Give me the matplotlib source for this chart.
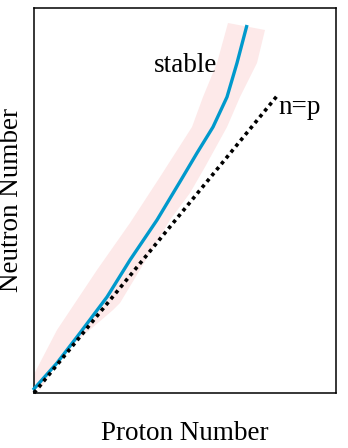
import matplotlib.pyplot as plt
import numpy as np

plt.rcParams['font.family'] = ['Liberation Serif', 'DejaVu Serif']

# blue "stable" curve (proton, neutron) in arbitrary units
stable_z = [-1, 23, 46, 73, 96, 123, 147, 163, 179, 193, 203, 213]
stable_n = [3, 30, 60, 96, 133, 173, 213, 240, 266, 296, 330, 368]

# pink band around the stable line
band_upper_z = [-4, 23, 63, 96, 126, 158, 169, 183, 194]
band_upper_n = [11, 63, 123, 170, 216, 266, 296, 330, 370]
band_lower_z = [231, 223, 206, 193, 171, 156, 136, 86, 79, 29, 6]
band_lower_n = [363, 330, 296, 266, 226, 200, 173, 90, 83, 40, 3]

# n = p line
np_z = [0, 243]
np_n = [0, 297]

fig = plt.figure(figsize=(3.48, 4.48), dpi=100)
ax = fig.add_axes([34 / 348, 55 / 448, 302 / 348, 385 / 448])

band_z = band_upper_z + band_lower_z
band_n = band_upper_n + band_lower_n
ax.fill(band_z, band_n, color='#fde9e9', lw=0, zorder=1)
ax.plot(stable_z, stable_n, color='#0099cc', lw=2.4, zorder=3, clip_on=False,
        solid_capstyle='butt', solid_joinstyle='round')
ax.plot(np_z, np_n, color='black', lw=2.6, ls=(0, (1, 1.1)), zorder=4,
        clip_on=False)

ax.text(152, 328, 'stable', fontsize=19.5, ha='center', va='center')
ax.text(266, 285, 'n=p', fontsize=19.5, ha='center', va='center')

ax.set_xlim(0, 302)
ax.set_ylim(0, 385)
ax.set_xticks([])
ax.set_yticks([])
for s in ax.spines.values():
    s.set_linewidth(1.1)

ax.set_xlabel('Proton Number', fontsize=19.5, labelpad=20)
ax.set_ylabel('Neutron Number', fontsize=19.5, labelpad=7)

fig.savefig('out.png', dpi=100)
